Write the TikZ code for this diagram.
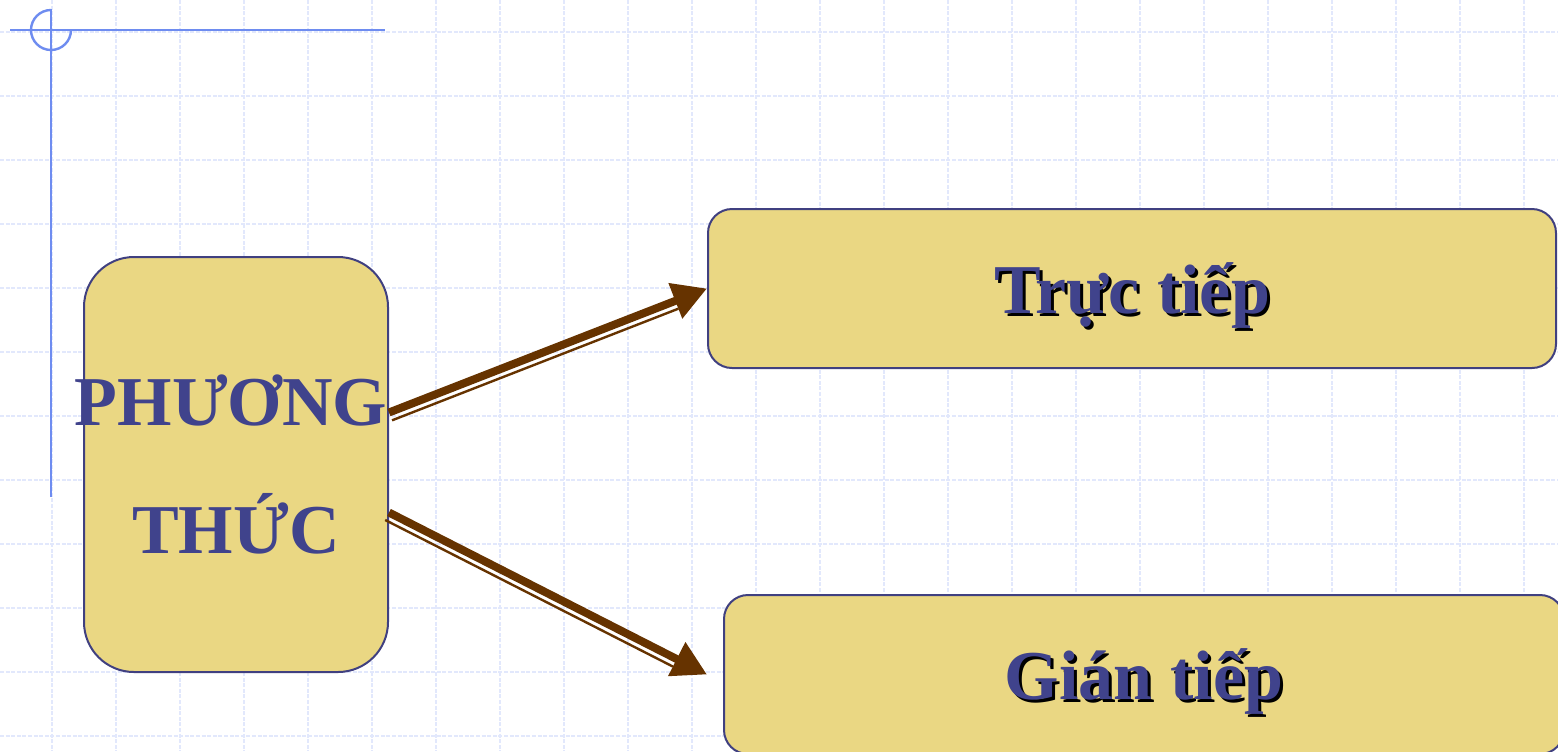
\documentclass[tikz,border=0pt]{standalone}
\usepackage{fontspec}
\setmainfont{Liberation Serif}
\usepackage{tikz}
\usetikzlibrary{positioning}
\usetikzlibrary{calc}
\usetikzlibrary{arrows.meta}

\definecolor{boxfill}{RGB}{234,215,131}
\definecolor{boxline}{RGB}{64,64,128}
\definecolor{txtblue}{RGB}{64,67,140}
\definecolor{arrbrown}{RGB}{102,51,0}
\definecolor{decoblue}{RGB}{110,140,240}
\definecolor{gridblue}{RGB}{226,232,252}

\newcommand{\shadowed}[1]{\raisebox{-12.5pt}[0pt][0pt]{\rlap{\kern1.5pt\raisebox{-1.5pt}{\textcolor{black}{#1}}}#1}}

\tikzset{
	box/.style={draw=boxline, line width=1pt, fill=boxfill, text=txtblue, font=\bfseries\fontsize{35}{40}\selectfont},
	fatline/.style={draw=arrbrown, line width=4pt, -{Triangle[length=17pt,width=18pt]}},
	slimline/.style={draw=arrbrown, line width=1.2pt},
	gridline/.style={draw=gridblue, line width=1pt, dash pattern=on 2pt off 0.8pt},
	decoline/.style={draw=decoblue, line width=1.2pt}
}

\begin{document}
\begin{tikzpicture}[x=0.5pt,y=-0.5pt]
			\useasboundingbox (0,0) rectangle (1558,751);
			\clip (0,0) rectangle (1558,751);
			% background grid
			\foreach \x in {0,...,23}
				\draw[gridline] (52+64*\x,0) -- (52+64*\x,751);
			\foreach \y in {0,...,11}
				\draw[gridline] (0,32+64*\y) -- (1558,32+64*\y);
			% corner mark
			\draw[decoline] (10,30) -- (385,30);
			\draw[decoline] (51,9) -- (51,497);
			\draw[decoline] (51,10) arc[start angle=270, end angle=0, radius=20];
			% boxes
			\node[box, rounded corners=25pt, minimum width=152pt, minimum height=207.5pt, align=center, font=\bfseries\fontsize{35}{64}\selectfont] (pbox) at (236,464.5) {\makebox[0pt]{PHƯƠNG\hspace{5pt}}\\\makebox[0pt]{THỨC}};
			\node[box, rounded corners=12pt, minimum width=424pt, minimum height=79.5pt] (tbox) at (1132,288.5) {\shadowed{Trực tiếp}};
			\node[box, rounded corners=12pt, minimum width=420pt, minimum height=79.5pt, below=112.5pt of tbox.south west, anchor=north west, xshift=8pt] (gbox) {\shadowed{Gián tiếp}};
			% arrows
			\coordinate (u0) at ([yshift=26pt]pbox.east);
			\coordinate (u1) at (tbox.west);
			\coordinate (u2) at ($(u1)!17pt!(u0)$);
			\coordinate (d0) at ([yshift=-24pt]pbox.east);
			\coordinate (d1) at ([xshift=-8pt]gbox.west);
			\coordinate (d2) at ($(d1)!17pt!(d0)$);
			\draw[fatline] (u0) -- (u1);
			\draw[slimline] ($(u0)!4.2pt!-90:(u1)$) -- ($(u2)!4.2pt!90:(u0)$);
			\draw[fatline] (d0) -- (d1);
			\draw[slimline] ($(d0)!4.2pt!-90:(d1)$) -- ($(d2)!4.2pt!90:(d0)$);
		\end{tikzpicture}
\end{document}
